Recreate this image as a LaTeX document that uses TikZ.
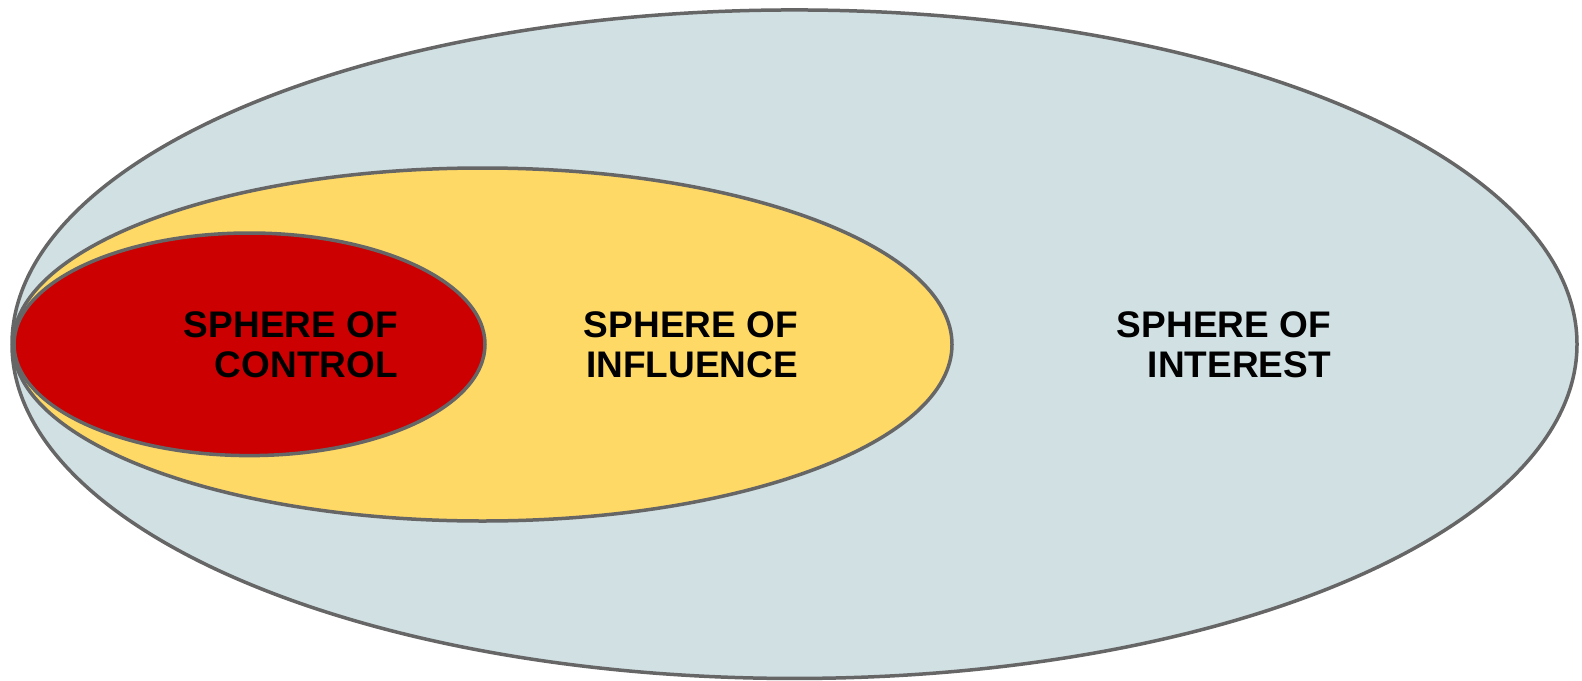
\documentclass[tikz,border=0pt]{standalone}
\usepackage{fontspec}
\setmainfont{Liberation Sans}
\usetikzlibrary{shapes.geometric}
\definecolor{edgegray}{HTML}{666666}
\definecolor{interestfill}{HTML}{D0E0E3}
\definecolor{influencefill}{HTML}{FFD966}
\definecolor{controlfill}{HTML}{CC0000}
\tikzset{
  sphere/.style={ellipse, draw=edgegray, line width=3.5pt, inner sep=0pt, outer sep=0pt},
  label/.style={align=right, anchor=base east, inner sep=0pt, text=black,
    font=\fontsize{37}{40.4}\selectfont\bfseries}
}
\begin{document}
\begin{tikzpicture}[x=1pt,y=-1pt]
\useasboundingbox (0,0) rectangle (1582,680);
\node[sphere, fill=interestfill, minimum width=1565pt, minimum height=668.5pt] (interest) at (794.5,344.2) {};
\node[sphere, fill=influencefill, minimum width=939pt, minimum height=353pt] (influence) at (482.5,344.5) {};
\node[sphere, fill=controlfill, minimum width=471pt, minimum height=222.6pt] (control) at (249.5,344.3) {};
\node[label] (tcontrol) at (398,377.7) {SPHERE OF\\CONTROL};
\node[label] (tinfluence) at (798,377.7) {SPHERE OF\\INFLUENCE};
\node[label] (tinterest) at (1331,377.7) {SPHERE OF\\INTEREST};
\end{tikzpicture}
\end{document}
